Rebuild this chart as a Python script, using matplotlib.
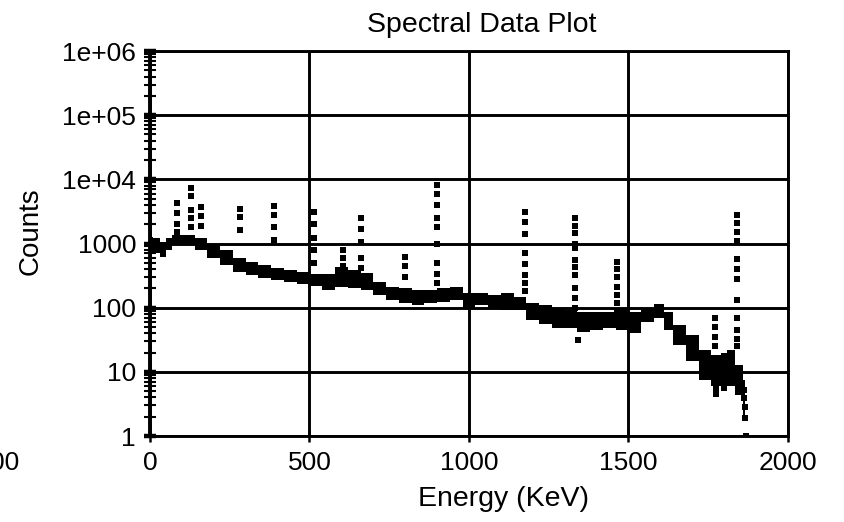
import numpy as np
import matplotlib
matplotlib.use("Agg")
import matplotlib.pyplot as plt
from matplotlib.ticker import FixedLocator, FixedFormatter, LogLocator, NullFormatter

plt.rcParams['font.family'] = ['Liberation Sans', 'DejaVu Sans']

# continuum band (energy in keV, counts low/high)
band_e = [0, 20, 40, 60, 80, 120, 160, 200, 240, 280, 320, 360, 400, 440, 480,
          520, 560, 600, 640, 680, 720, 760, 800, 840, 880, 920, 960, 1000, 1040,
          1080, 1120, 1160, 1200, 1240, 1280, 1320, 1360, 1400, 1440, 1480, 1520,
          1560, 1600, 1620, 1660, 1700, 1740, 1780, 1800, 1820, 1850, 1865]
band_hi = [1250, 1200, 1050, 1200, 1350, 1350, 1200, 980, 790, 590, 510, 460, 410,
           380, 360, 330, 340, 430, 380, 350, 250, 210, 200, 190, 190, 200, 210,
           170, 170, 155, 170, 145, 120, 110, 98, 92, 85, 85, 85, 98, 85, 98, 113,
           85, 53, 37, 22, 18, 20, 22, 13, 7.5]
band_lo = [740, 700, 620, 800, 1000, 950, 800, 600, 460, 360, 320, 290, 270, 250,
           230, 215, 190, 210, 200, 190, 160, 130, 118, 110, 118, 122, 130, 100,
           110, 100, 92, 92, 64, 55, 48, 48, 42, 45, 48, 45, 40, 60, 70, 45, 26,
           15, 7.5, 6, 5, 6, 4.3, 1.8]

# photopeaks: channel energy and the counts of the points in each column
peak_e = [85, 130, 160, 283, 390, 515, 605, 660, 800, 900, 1175, 1333, 1463, 1770, 1840]
peak_counts = [
    [4300, 3000, 2000, 1500],
    [7300, 5500, 3300, 2500, 1800],
    [3700, 2700, 1900],
    [3400, 2600, 1600],
    [3800, 2800, 1800, 1150],
    [3100, 2000, 1200, 800, 500],
    [790, 600, 450],
    [2500, 1700, 1050, 600, 420],
    [620, 450, 300],
    [8100, 6000, 4000, 2500, 1800, 1000, 500, 330, 240],
    [3100, 2200, 1400, 700, 480, 320, 240, 180],
    [2500, 1900, 1450, 1000, 850, 550, 430, 320, 200, 140, 100],
    [510, 400, 300, 210, 160, 120, 90],
    [69, 50, 35, 25],
    [2750, 2100, 1500, 1100, 570, 400, 280, 130, 70, 45, 32, 25],
]

# loose points below the band and at the end of the spectrum
stray_e = [1342, 1775, 1775, 1862, 1862, 1866, 1866, 1868]
stray_c = [31, 5.5, 4.5, 5.2, 3.9, 2.8, 1.9, 1.0]

y_ticks = [1, 10, 100, 1000, 1e4, 1e5, 1e6]
y_labels = ['1', '10', '100', '1000', '1e+04', '1e+05', '1e+06']
x_ticks = [0, 500, 1000, 1500, 2000]

fig = plt.figure(figsize=(8.45, 5.22), dpi=100)
ax = fig.add_axes([150/845, 1 - 436/522, 638/845, 385/522])

ax.fill_between(band_e, band_lo, band_hi, step='mid', color='black', lw=0)
for e, cs in zip(peak_e, peak_counts):
    ax.plot([e]*len(cs), cs, 's', color='black', ms=4.3, mew=0)
ax.plot(stray_e, stray_c, 's', color='black', ms=4.3, mew=0)

ax.set_yscale('log')
ax.set_xlim(0, 2000)
ax.set_ylim(1, 1e6)
ax.yaxis.set_major_locator(FixedLocator(y_ticks))
ax.yaxis.set_major_formatter(FixedFormatter(y_labels))
ax.yaxis.set_minor_locator(LogLocator(base=10, subs=np.arange(2, 10)))
ax.yaxis.set_minor_formatter(NullFormatter())
ax.xaxis.set_major_locator(FixedLocator(x_ticks))

ax.grid(True, which='major', color='black', lw=2.1)
for s in ax.spines.values():
    s.set_linewidth(2.1)
ax.spines['left'].set_linewidth(2.8)

ax.tick_params(axis='y', which='major', direction='inout', length=8, width=3.2,
               labelsize=19, pad=6)
ax.tick_params(axis='y', which='minor', direction='inout', length=9, width=1.5)
ax.tick_params(axis='x', which='major', direction='inout', length=9, width=1.8,
               labelsize=19, pad=6)
ax.tick_params(axis='x', which='minor', bottom=False)

fig.text(482/845, 1 - 32/522, 'Spectral Data Plot', ha='center', va='baseline', fontsize=20.5)
fig.text(504/845, 1 - 506/522, 'Energy (KeV)', ha='center', va='baseline', fontsize=20.5)
fig.text(31/845, 1 - 231/522, 'Counts', ha='center', va='center', rotation=90, fontsize=20)
# clipped leftover label at the lower left edge, as in the source image
fig.text(19/845, 1 - 470/522, '00', ha='right', va='baseline', fontsize=19)

fig.savefig('out.png', dpi=100)
